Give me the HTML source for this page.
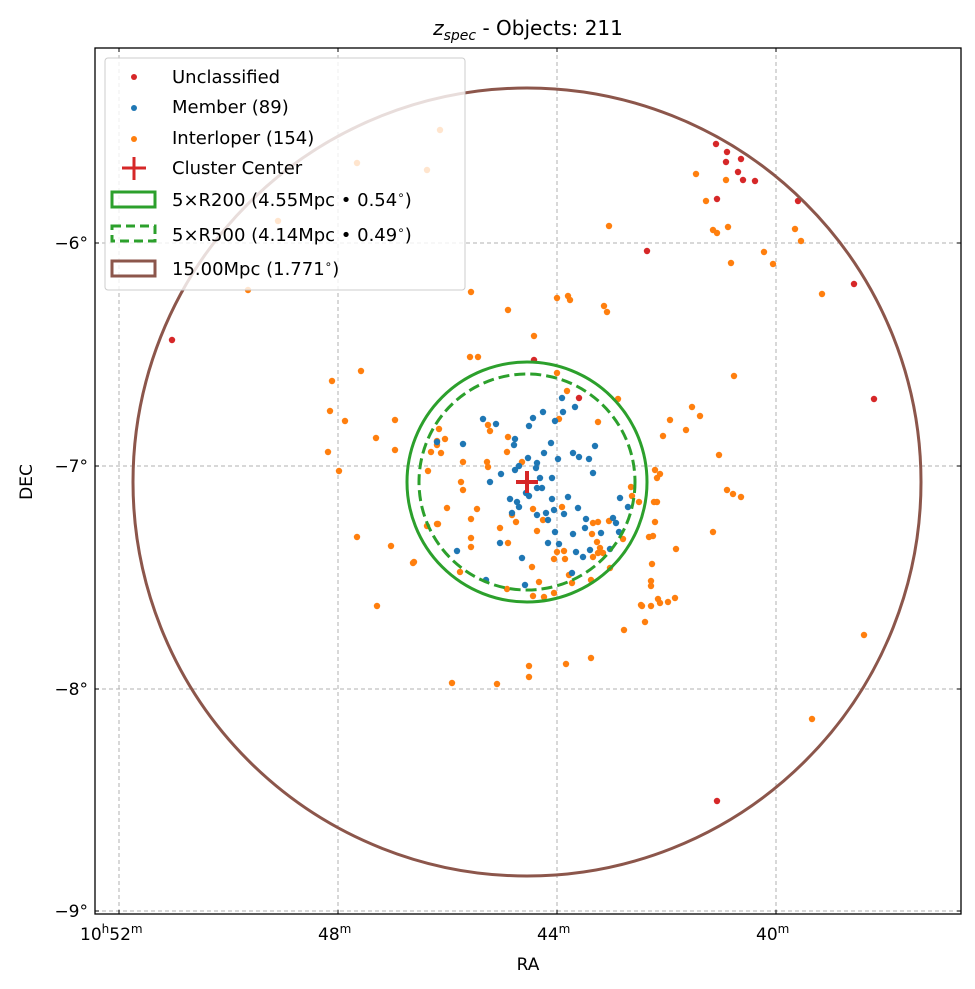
<!DOCTYPE html>
<html><head><meta charset="utf-8"><style>
html,body{margin:0;padding:0;background:#fff}
svg{display:block;font-family:"DejaVu Sans","Liberation Sans",sans-serif}
</style></head><body>
<svg width="975" height="989" viewBox="0 0 975 989" xmlns="http://www.w3.org/2000/svg">
<rect width="975" height="989" fill="#fff"/>
<g stroke="#b0b0b0" stroke-width="1" stroke-dasharray="4,3" fill="none">
<line x1="119" y1="48" x2="119" y2="914"/><line x1="338" y1="48" x2="338" y2="914"/>
<line x1="557" y1="48" x2="557" y2="914"/><line x1="776" y1="48" x2="776" y2="914"/>
<line x1="95" y1="243" x2="961" y2="243"/><line x1="95" y1="466" x2="961" y2="466"/>
<line x1="95" y1="689" x2="961" y2="689"/><line x1="95" y1="911" x2="961" y2="911"/>
</g>
<g fill="#ff7f0e">
<circle cx="470" cy="357" r="3.2"/><circle cx="478" cy="357" r="3.2"/><circle cx="557" cy="373" r="3.2"/><circle cx="567" cy="391" r="3.2"/><circle cx="618" cy="399" r="3.2"/><circle cx="598" cy="422" r="3.2"/><circle cx="559" cy="419" r="3.2"/><circle cx="488" cy="425" r="3.2"/><circle cx="490" cy="431" r="3.2"/><circle cx="439" cy="429" r="3.2"/><circle cx="445" cy="439" r="3.2"/><circle cx="437" cy="445" r="3.2"/><circle cx="431" cy="452" r="3.2"/><circle cx="508" cy="437" r="3.2"/><circle cx="507" cy="452" r="3.2"/><circle cx="487" cy="462" r="3.2"/><circle cx="488" cy="467" r="3.2"/><circle cx="463" cy="462" r="3.2"/><circle cx="428" cy="471" r="3.2"/><circle cx="461" cy="482" r="3.2"/><circle cx="522" cy="462" r="3.2"/><circle cx="447" cy="508" r="3.2"/><circle cx="477" cy="509" r="3.2"/><circle cx="471" cy="519" r="3.2"/><circle cx="437" cy="524" r="3.2"/><circle cx="427" cy="526" r="3.2"/><circle cx="500" cy="528" r="3.2"/><circle cx="512" cy="515" r="3.2"/><circle cx="516" cy="522" r="3.2"/><circle cx="533" cy="509" r="3.2"/><circle cx="543" cy="520" r="3.2"/><circle cx="537" cy="531" r="3.2"/><circle cx="562" cy="507" r="3.2"/><circle cx="593" cy="523" r="3.2"/><circle cx="598" cy="522" r="3.2"/><circle cx="609" cy="521" r="3.2"/><circle cx="631" cy="487" r="3.2"/><circle cx="632" cy="496" r="3.2"/><circle cx="639" cy="502" r="3.2"/><circle cx="657" cy="502" r="3.2"/><circle cx="655" cy="522" r="3.2"/><circle cx="653" cy="536" r="3.2"/><circle cx="623" cy="539" r="3.2"/><circle cx="592" cy="534" r="3.2"/><circle cx="597" cy="542" r="3.2"/><circle cx="600" cy="548" r="3.2"/><circle cx="598" cy="553" r="3.2"/><circle cx="603" cy="553" r="3.2"/><circle cx="593" cy="557" r="3.2"/><circle cx="471" cy="538" r="3.2"/><circle cx="471" cy="547" r="3.2"/><circle cx="508" cy="543" r="3.2"/><circle cx="557" cy="552" r="3.2"/><circle cx="564" cy="551" r="3.2"/><circle cx="565" cy="559" r="3.2"/><circle cx="554" cy="559" r="3.2"/><circle cx="532" cy="567" r="3.2"/><circle cx="414" cy="562" r="3.2"/><circle cx="460" cy="572" r="3.2"/><circle cx="610" cy="568" r="3.2"/><circle cx="569" cy="575" r="3.2"/><circle cx="572" cy="583" r="3.2"/><circle cx="591" cy="580" r="3.2"/><circle cx="539" cy="582" r="3.2"/><circle cx="507" cy="589" r="3.2"/><circle cx="533" cy="596" r="3.2"/><circle cx="544" cy="597" r="3.2"/><circle cx="554" cy="593" r="3.2"/><circle cx="651" cy="581" r="3.2"/><circle cx="651" cy="586" r="3.2"/><circle cx="641" cy="605" r="3.2"/><circle cx="651" cy="606" r="3.2"/><circle cx="658" cy="599" r="3.2"/>
<circle cx="440" cy="130" r="3.2"/><circle cx="357" cy="163" r="3.2"/><circle cx="427" cy="170" r="3.2"/><circle cx="278" cy="221" r="3.2"/><circle cx="248" cy="290" r="3.2"/><circle cx="609" cy="226" r="3.2"/><circle cx="471" cy="292" r="3.2"/><circle cx="508" cy="310" r="3.2"/><circle cx="557" cy="298" r="3.2"/><circle cx="568" cy="296" r="3.2"/><circle cx="570" cy="300" r="3.2"/><circle cx="604" cy="306" r="3.2"/><circle cx="607" cy="312" r="3.2"/><circle cx="534" cy="336" r="3.2"/><circle cx="696" cy="174" r="3.2"/><circle cx="706" cy="201" r="3.2"/><circle cx="713" cy="230" r="3.2"/><circle cx="717" cy="233" r="3.2"/><circle cx="728" cy="227" r="3.2"/><circle cx="726" cy="180" r="3.2"/><circle cx="731" cy="263" r="3.2"/><circle cx="764" cy="252" r="3.2"/><circle cx="773" cy="264" r="3.2"/><circle cx="795" cy="229" r="3.2"/><circle cx="801" cy="241" r="3.2"/><circle cx="822" cy="294" r="3.2"/><circle cx="734" cy="376" r="3.2"/><circle cx="692" cy="407" r="3.2"/><circle cx="700" cy="416" r="3.2"/><circle cx="686" cy="430" r="3.2"/><circle cx="670" cy="420" r="3.2"/><circle cx="663" cy="436" r="3.2"/><circle cx="719" cy="455" r="3.2"/><circle cx="727" cy="490" r="3.2"/><circle cx="733" cy="494" r="3.2"/><circle cx="741" cy="497" r="3.2"/><circle cx="713" cy="532" r="3.2"/><circle cx="676" cy="549" r="3.2"/><circle cx="655" cy="470" r="3.2"/><circle cx="657" cy="478" r="3.2"/><circle cx="660" cy="474" r="3.2"/><circle cx="654" cy="502" r="3.2"/><circle cx="649" cy="537" r="3.2"/><circle cx="652" cy="564" r="3.2"/><circle cx="642" cy="606" r="3.2"/><circle cx="660" cy="603" r="3.2"/><circle cx="668" cy="602" r="3.2"/><circle cx="675" cy="598" r="3.2"/><circle cx="645" cy="622" r="3.2"/><circle cx="624" cy="630" r="3.2"/><circle cx="591" cy="658" r="3.2"/><circle cx="566" cy="664" r="3.2"/><circle cx="529" cy="666" r="3.2"/><circle cx="529" cy="677" r="3.2"/><circle cx="452" cy="683" r="3.2"/><circle cx="497" cy="684" r="3.2"/><circle cx="395" cy="450" r="3.2"/><circle cx="376" cy="438" r="3.2"/><circle cx="345" cy="421" r="3.2"/><circle cx="332" cy="381" r="3.2"/><circle cx="361" cy="371" r="3.2"/><circle cx="330" cy="411" r="3.2"/><circle cx="328" cy="452" r="3.2"/><circle cx="339" cy="471" r="3.2"/><circle cx="357" cy="537" r="3.2"/><circle cx="391" cy="546" r="3.2"/><circle cx="413" cy="563" r="3.2"/><circle cx="377" cy="606" r="3.2"/><circle cx="437" cy="441" r="3.2"/><circle cx="441" cy="453" r="3.2"/><circle cx="463" cy="490" r="3.2"/><circle cx="395" cy="420" r="3.2"/><circle cx="864" cy="635" r="3.2"/><circle cx="812" cy="719" r="3.2"/><circle cx="438" cy="524" r="3.2"/>
</g>
<g fill="#1f77b4">
<circle cx="483" cy="419" r="3.2"/><circle cx="496" cy="424" r="3.2"/><circle cx="463" cy="444" r="3.2"/><circle cx="437" cy="442" r="3.2"/><circle cx="515" cy="439" r="3.2"/><circle cx="514" cy="445" r="3.2"/><circle cx="529" cy="426" r="3.2"/><circle cx="533" cy="418" r="3.2"/><circle cx="543" cy="412" r="3.2"/><circle cx="562" cy="398" r="3.2"/><circle cx="563" cy="412" r="3.2"/><circle cx="555" cy="421" r="3.2"/><circle cx="575" cy="407" r="3.2"/><circle cx="595" cy="446" r="3.2"/><circle cx="551" cy="443" r="3.2"/><circle cx="544" cy="453" r="3.2"/><circle cx="528" cy="458" r="3.2"/><circle cx="537" cy="463" r="3.2"/><circle cx="536" cy="468" r="3.2"/><circle cx="519" cy="466" r="3.2"/><circle cx="515" cy="470" r="3.2"/><circle cx="558" cy="459" r="3.2"/><circle cx="573" cy="453" r="3.2"/><circle cx="579" cy="457" r="3.2"/><circle cx="589" cy="459" r="3.2"/><circle cx="593" cy="473" r="3.2"/><circle cx="501" cy="474" r="3.2"/><circle cx="490" cy="482" r="3.2"/><circle cx="540" cy="478" r="3.2"/><circle cx="552" cy="478" r="3.2"/><circle cx="537" cy="488" r="3.2"/><circle cx="542" cy="488" r="3.2"/><circle cx="526" cy="493" r="3.2"/><circle cx="529" cy="496" r="3.2"/><circle cx="510" cy="499" r="3.2"/><circle cx="517" cy="502" r="3.2"/><circle cx="519" cy="507" r="3.2"/><circle cx="552" cy="499" r="3.2"/><circle cx="568" cy="497" r="3.2"/><circle cx="578" cy="508" r="3.2"/><circle cx="554" cy="510" r="3.2"/><circle cx="564" cy="514" r="3.2"/><circle cx="537" cy="515" r="3.2"/><circle cx="546" cy="513" r="3.2"/><circle cx="548" cy="520" r="3.2"/><circle cx="512" cy="513" r="3.2"/><circle cx="586" cy="519" r="3.2"/><circle cx="616" cy="523" r="3.2"/><circle cx="613" cy="518" r="3.2"/><circle cx="619" cy="532" r="3.2"/><circle cx="620" cy="498" r="3.2"/><circle cx="628" cy="507" r="3.2"/><circle cx="601" cy="533" r="3.2"/><circle cx="585" cy="528" r="3.2"/><circle cx="573" cy="534" r="3.2"/><circle cx="555" cy="532" r="3.2"/><circle cx="548" cy="543" r="3.2"/><circle cx="559" cy="544" r="3.2"/><circle cx="500" cy="543" r="3.2"/><circle cx="457" cy="551" r="3.2"/><circle cx="522" cy="558" r="3.2"/><circle cx="576" cy="552" r="3.2"/><circle cx="583" cy="557" r="3.2"/><circle cx="590" cy="550" r="3.2"/><circle cx="610" cy="549" r="3.2"/><circle cx="572" cy="573" r="3.2"/><circle cx="486" cy="580" r="3.2"/><circle cx="525" cy="585" r="3.2"/>
</g>
<g fill="#d62728">
<circle cx="534" cy="360" r="3.2"/><circle cx="579" cy="398" r="3.2"/><circle cx="716" cy="144" r="3.2"/><circle cx="727" cy="152" r="3.2"/><circle cx="741" cy="159" r="3.2"/><circle cx="726" cy="162" r="3.2"/><circle cx="738" cy="172" r="3.2"/><circle cx="743" cy="180" r="3.2"/><circle cx="755" cy="181" r="3.2"/><circle cx="717" cy="199" r="3.2"/><circle cx="647" cy="251" r="3.2"/><circle cx="798" cy="201" r="3.2"/><circle cx="854" cy="284" r="3.2"/><circle cx="874" cy="399" r="3.2"/><circle cx="172" cy="340" r="3.2"/><circle cx="717" cy="801" r="3.2"/>
</g>
<circle cx="527" cy="482" r="394" fill="none" stroke="#8c564b" stroke-width="3"/>
<circle cx="527" cy="482" r="120" fill="none" stroke="#2ca02c" stroke-width="3"/>
<circle cx="527" cy="482" r="108" fill="none" stroke="#2ca02c" stroke-width="3" stroke-dasharray="11,5"/>
<g stroke="#d62728" stroke-width="4"><line x1="516" y1="482" x2="538" y2="482"/><line x1="527" y1="471" x2="527" y2="493"/></g>
<g stroke="#000" stroke-width="1">
<line x1="119" y1="914" x2="119" y2="910"/><line x1="338" y1="914" x2="338" y2="910"/><line x1="557" y1="914" x2="557" y2="910"/><line x1="776" y1="914" x2="776" y2="910"/>
<line x1="119" y1="48" x2="119" y2="52"/><line x1="338" y1="48" x2="338" y2="52"/><line x1="557" y1="48" x2="557" y2="52"/><line x1="776" y1="48" x2="776" y2="52"/>
<line x1="95" y1="243" x2="99" y2="243"/><line x1="95" y1="466" x2="99" y2="466"/><line x1="95" y1="689" x2="99" y2="689"/><line x1="95" y1="911" x2="99" y2="911"/>
<line x1="961" y1="243" x2="957" y2="243"/><line x1="961" y1="466" x2="957" y2="466"/><line x1="961" y1="689" x2="957" y2="689"/><line x1="961" y1="911" x2="957" y2="911"/>
</g>
<rect x="95" y="48" width="866" height="866" fill="none" stroke="#000" stroke-width="1.3"/>
<rect x="105" y="58" width="360" height="232" rx="3" fill="#fff" fill-opacity="0.8" stroke="#ccc" stroke-width="1"/>
<g font-size="18" fill="#000">
<circle cx="134" cy="77" r="3" fill="#d62728"/><text x="172" y="83">Unclassified</text>
<circle cx="134" cy="108" r="3" fill="#1f77b4"/><text x="172" y="113">Member (89)</text>
<circle cx="134" cy="139" r="3" fill="#ff7f0e"/><text x="172" y="144">Interloper (154)</text>
<g stroke="#d62728" stroke-width="3"><line x1="122" y1="168" x2="146" y2="168"/><line x1="134" y1="157" x2="134" y2="180"/></g><text x="172" y="174">Cluster Center</text>
<rect x="112" y="192" width="43" height="15" fill="none" stroke="#2ca02c" stroke-width="3"/><text x="172" y="206">5×R200 (4.55Mpc • 0.54<tspan font-size="12" dy="-7">∘</tspan><tspan dy="7">)</tspan></text>
<rect x="112" y="226" width="43" height="15" fill="none" stroke="#2ca02c" stroke-width="3" stroke-dasharray="9,5"/><text x="172" y="241">5×R500 (4.14Mpc • 0.49<tspan font-size="12" dy="-7">∘</tspan><tspan dy="7">)</tspan></text>
<rect x="112" y="261" width="43" height="15" fill="none" stroke="#8c564b" stroke-width="3"/><text x="172" y="275">15.00Mpc (1.771<tspan font-size="12" dy="-7">∘</tspan><tspan dy="7">)</tspan></text>
</g>
<g font-size="17" fill="#000">
<text x="528" y="35" text-anchor="middle" font-size="20"><tspan font-style="italic">z</tspan><tspan font-size="14" dy="5" font-style="italic">spec</tspan><tspan dy="-5"> - Objects: 211</tspan></text>
<text x="528" y="970" text-anchor="middle">RA</text>
<text transform="translate(32,482) rotate(-90)" text-anchor="middle">DEC</text>
<text x="88" y="249" text-anchor="end">−6°</text><text x="88" y="472" text-anchor="end">−7°</text>
<text x="88" y="695" text-anchor="end">−8°</text><text x="88" y="917" text-anchor="end">−9°</text>
<text x="80" y="940">10<tspan font-size="12" dy="-7">h</tspan><tspan dy="7">52</tspan><tspan font-size="12" dy="-7">m</tspan></text>
<text x="318" y="940">48<tspan font-size="12" dy="-7">m</tspan></text>
<text x="537" y="940">44<tspan font-size="12" dy="-7">m</tspan></text>
<text x="756" y="940">40<tspan font-size="12" dy="-7">m</tspan></text>
</g>
</svg>
</body></html>
